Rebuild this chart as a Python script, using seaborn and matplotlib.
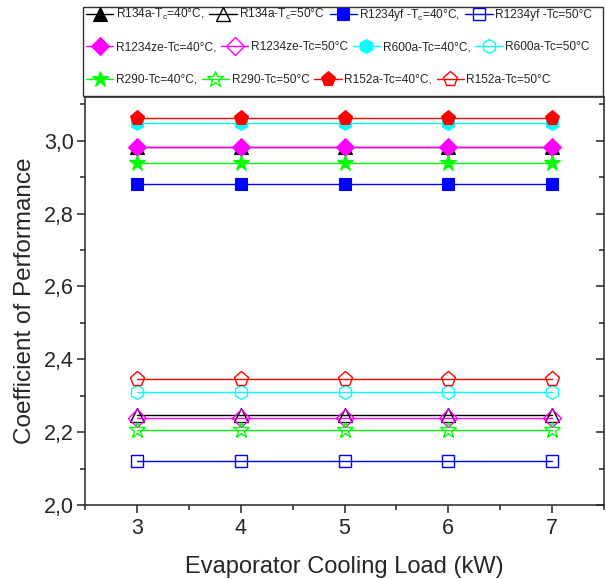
import matplotlib
matplotlib.use("Agg")
import matplotlib.pyplot as plt
import seaborn as sns
import pandas as pd
from matplotlib.patches import Rectangle
from matplotlib.ticker import MultipleLocator, FuncFormatter

sns.set_style("ticks")
plt.rcParams['font.family'] = ['Liberation Sans', 'DejaVu Sans']
plt.rcParams['mathtext.default'] = 'regular'

# ---- data ----
loads = [3, 4, 5, 6, 7]
labels = [
    "R134a-$T_c$=40°C,", "R134a-$T_c$=50°C", "R1234yf -$T_c$=40°C,", "R1234yf -Tc=50°C",
    "R1234ze-Tc=40°C,", "R1234ze-Tc=50°C", "R600a-Tc=40°C,", "R600a-Tc=50°C",
    "R290-Tc=40°C,", "R290-Tc=50°C", "R152a-Tc=40°C,", "R152a-Tc=50°C",
]
cop_r134a_40 = [2.982, 2.982, 2.982, 2.982, 2.982]
cop_r134a_50 = [2.247, 2.247, 2.247, 2.247, 2.247]
cop_r1234yf_40 = [2.88, 2.88, 2.88, 2.88, 2.88]
cop_r1234yf_50 = [2.12, 2.12, 2.12, 2.12, 2.12]
cop_r1234ze_40 = [2.982, 2.982, 2.982, 2.982, 2.982]
cop_r1234ze_50 = [2.238, 2.238, 2.238, 2.238, 2.238]
cop_r600a_40 = [3.049, 3.049, 3.049, 3.049, 3.049]
cop_r600a_50 = [2.31, 2.31, 2.31, 2.31, 2.31]
cop_r290_40 = [2.94, 2.94, 2.94, 2.94, 2.94]
cop_r290_50 = [2.205, 2.205, 2.205, 2.205, 2.205]
cop_r152a_40 = [3.062, 3.062, 3.062, 3.062, 3.062]
cop_r152a_50 = [2.345, 2.345, 2.345, 2.345, 2.345]

series = [cop_r134a_40, cop_r134a_50, cop_r1234yf_40, cop_r1234yf_50,
          cop_r1234ze_40, cop_r1234ze_50, cop_r600a_40, cop_r600a_50,
          cop_r290_40, cop_r290_50, cop_r152a_40, cop_r152a_50]

# ---- styles ----
colors = ['#000000', '#000000', '#0000FF', '#0000FF',
          '#FF00FF', '#FF00FF', '#00FFFF', '#00FFFF',
          '#00FF00', '#00FF00', '#FF0000', '#FF0000']
markers = ['^', '^', 's', 's', 'D', 'D', 'h', 'h', '*', '*', 'p', 'p']
sizes = [10, 10, 9, 9, 9, 9, 10, 10, 12, 12, 11, 11]
filled = [True, False] * 6

fig = plt.figure(figsize=(6.06, 5.79), dpi=100)
ax = fig.add_axes([85/606, 1-505/579, (604-85)/606, (505-97)/579])

for lab, vals, c, m, ms, f in zip(labels, series, colors, markers, sizes, filled):
    df = pd.DataFrame({"load": loads, "cop": vals})
    sns.lineplot(data=df, x="load", y="cop", ax=ax, color=c, marker=m,
                 markersize=ms, linewidth=1.0, label=lab,
                 markerfacecolor=(c if f else 'none'), markeredgecolor=c,
                 markeredgewidth=1.0 if not f else 0.8)

if ax.get_legend() is not None:
    ax.get_legend().remove()

ax.set_xlim(2.5, 7.5)
ax.set_ylim(2.0, 3.12)
ax.xaxis.set_major_locator(MultipleLocator(1))
ax.xaxis.set_minor_locator(MultipleLocator(0.5))
ax.yaxis.set_major_locator(MultipleLocator(0.2))
ax.yaxis.set_minor_locator(MultipleLocator(0.1))
ax.yaxis.set_major_formatter(FuncFormatter(lambda v, p: f"{v:.1f}".replace('.', ',')))
ax.tick_params(axis='both', which='major', labelsize=15.5, length=6, width=1.1,
               direction='out')
ax.tick_params(axis='both', which='minor', length=3.5, width=1.1, direction='out')
ax.tick_params(axis='y', which='both', right=True, labelright=False)
ax.tick_params(axis='y', which='major', pad=2)
for s in ax.spines.values():
    s.set_linewidth(1.1)
# right-side ticks point inward
for t in ax.yaxis.get_major_ticks() + ax.yaxis.get_minor_ticks():
    t.tick2line.set_marker(matplotlib.markers.TICKLEFT)

ax.set_xlabel("Evaporator Cooling Load (kW)", fontsize=17, labelpad=12)
ax.set_ylabel("Coefficient of Performance", fontsize=17.5, labelpad=6)

# ---- legend box above plot ----
fig.patches.append(Rectangle((83/606, 1-96/579), (603-83)/606, (96-7)/579,
                             transform=fig.transFigure, facecolor='white',
                             edgecolor='#333333', linewidth=1.0, zorder=5))
handles, labs = ax.get_legend_handles_labels()
row_y = [15, 47, 80]
for r in range(3):
    leg = fig.legend(handles[4*r:4*r+4], labs[4*r:4*r+4], ncol=4,
                     loc='center left', bbox_to_anchor=(80/606, 1-row_y[r]/579),
                     frameon=False, fontsize=8.6, handlelength=2.3,
                     handletextpad=0.2, columnspacing=0.4, borderpad=0,
                     markerscale=1.0)
    leg.set_zorder(6)

fig.savefig("out.png", dpi=100)
